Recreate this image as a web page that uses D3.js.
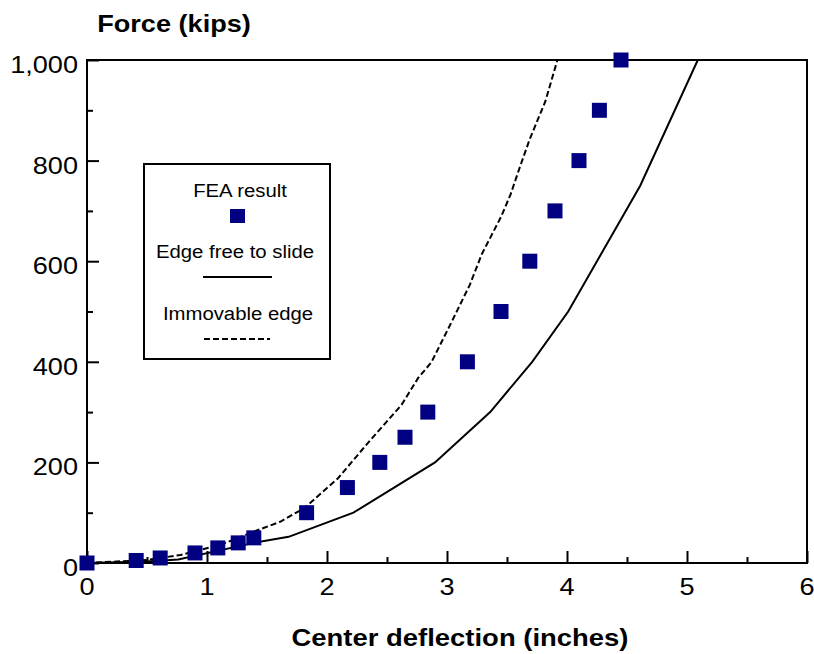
<!DOCTYPE html>
<html><head><meta charset="utf-8">
<script src="https://cdn.jsdelivr.net/npm/d3@7"></script>
<style>body{margin:0;background:#fff}svg{display:block}text{font-family:"Liberation Sans",Arial,sans-serif;fill:#000}</style>
</head><body><svg id="c" width="814" height="654"></svg>
<script>
// FEA result markers
const feaX = [0, 0.41, 0.61, 0.90, 1.09, 1.26, 1.39, 1.83, 2.17, 2.44, 2.65, 2.84, 3.17, 3.45, 3.69, 3.90, 4.10, 4.27, 4.45];
const feaY = [0, 5, 10, 20, 30, 40, 50, 100, 150, 200, 250, 300, 400, 500, 600, 700, 800, 900, 1000];
// Edge free to slide (solid)
const slideX = [0, 0.5, 0.76, 1.39, 1.68, 2.22, 2.9, 3.36, 3.71, 4.01, 4.61, 5.09];
const slideY = [0, 3, 7, 40, 52, 100, 200, 300, 400, 500, 750, 1000];
// Immovable edge (dashed)
const fixedX = [0, 0.5, 0.78, 1.11, 1.43, 1.61, 1.81, 2.09, 2.36, 2.62, 2.76, 2.87, 3.04, 3.19, 3.29, 3.45, 3.53, 3.61, 3.69, 3.82, 3.92];
const fixedY = [0, 6, 16, 36, 66, 82, 109, 168, 244, 314, 368, 399, 480, 553, 614, 688, 733, 789, 843, 918, 1000];
const xTicks = [0, 1, 2, 3, 4, 5, 6];
const yTicks = [0, 200, 400, 600, 800, 1000];
const legendLabels = ["FEA result", "Edge free to slide", "Immovable edge"];
const xTitle = "Center deflection (inches)";
const yTitle = "Force (kips)";

const svg = d3.select("#c");
const L = 87, R = 807, T = 60, B = 563;
const x = d3.scaleLinear().domain([0, 6]).range([L, R]);
const y = d3.scaleLinear().domain([0, 1000]).range([B, T]);
const SX = 1.13;

function txt(g, px, py, s, size, anchor, weight) {
  const gg = g.append("g").attr("transform", `translate(${px},${py}) scale(${SX},1)`);
  gg.append("text").attr("text-anchor", anchor).attr("font-size", size)
    .attr("font-weight", weight || "normal").text(s);
  return gg;
}

// frame
svg.append("rect").attr("x", L).attr("y", T).attr("width", R - L).attr("height", B - T)
  .attr("fill", "none").attr("stroke", "#000").attr("stroke-width", 2);

// axes with inner ticks
const xAxis = d3.axisBottom(x).tickValues(d3.range(0, 6.01, 0.5)).tickSize(-6).tickFormat("");
const gx = svg.append("g").attr("transform", `translate(0,${B})`).call(xAxis);
gx.select(".domain").remove();
gx.selectAll(".tick line").attr("stroke", "#000").attr("stroke-width", 2)
  .attr("y2", d => Number.isInteger(d) ? -12 : -6);
const yAxis = d3.axisLeft(y).tickValues(d3.range(0, 1001, 100)).tickSize(-6).tickFormat("");
const gy = svg.append("g").attr("transform", `translate(${L},0)`).call(yAxis);
gy.select(".domain").remove();
gy.selectAll(".tick line").attr("stroke", "#000").attr("stroke-width", 2)
  .attr("x2", d => d % 200 === 0 ? 12 : 6);

const labels = svg.append("g");
xTicks.forEach(v => txt(labels, x(v), 595, String(v), 24, "middle"));
yTicks.forEach(v => txt(labels, 78, y(v) + 13, d3.format(",")(v), 24, "end"));
txt(labels, 174, 32, yTitle, 24, "middle", "bold");
txt(labels, 460, 646, xTitle, 24.3, "middle", "bold");

// lines
const line = d3.line().x(d => x(d[0])).y(d => y(d[1]));
const plot = svg.append("g");
plot.append("path").datum(slideX.map((v, i) => [v, slideY[i]])).attr("d", line)
  .attr("fill", "none").attr("stroke", "#000").attr("stroke-width", 2);
plot.append("path").datum(fixedX.map((v, i) => [v, fixedY[i]])).attr("d", line)
  .attr("fill", "none").attr("stroke", "#000").attr("stroke-width", 2).attr("stroke-dasharray", "6,3");
const S = 15;
plot.selectAll("rect.m").data(feaX.map((v, i) => [v, feaY[i]])).join("rect").attr("class", "m")
  .attr("x", d => x(d[0]) - S / 2).attr("y", d => y(d[1]) - S / 2)
  .attr("width", S).attr("height", S).attr("fill", "#000080");

// legend
const lg = svg.append("g");
lg.append("rect").attr("x", 144).attr("y", 164).attr("width", 186).attr("height", 195)
  .attr("fill", "#fff").attr("stroke", "#000").attr("stroke-width", 2);
txt(lg, 240, 197, legendLabels[0], 18, "middle");
lg.append("rect").attr("x", 230).attr("y", 209).attr("width", S).attr("height", 14).attr("fill", "#000080");
txt(lg, 235, 258, legendLabels[1], 18, "middle");
lg.append("line").attr("x1", 203).attr("x2", 272).attr("y1", 277).attr("y2", 277)
  .attr("stroke", "#000").attr("stroke-width", 2);
txt(lg, 238, 320, legendLabels[2], 18, "middle");
lg.append("line").attr("x1", 204).attr("x2", 270).attr("y1", 339).attr("y2", 339)
  .attr("stroke", "#000").attr("stroke-width", 2).attr("stroke-dasharray", "6,3");
</script></body></html>
